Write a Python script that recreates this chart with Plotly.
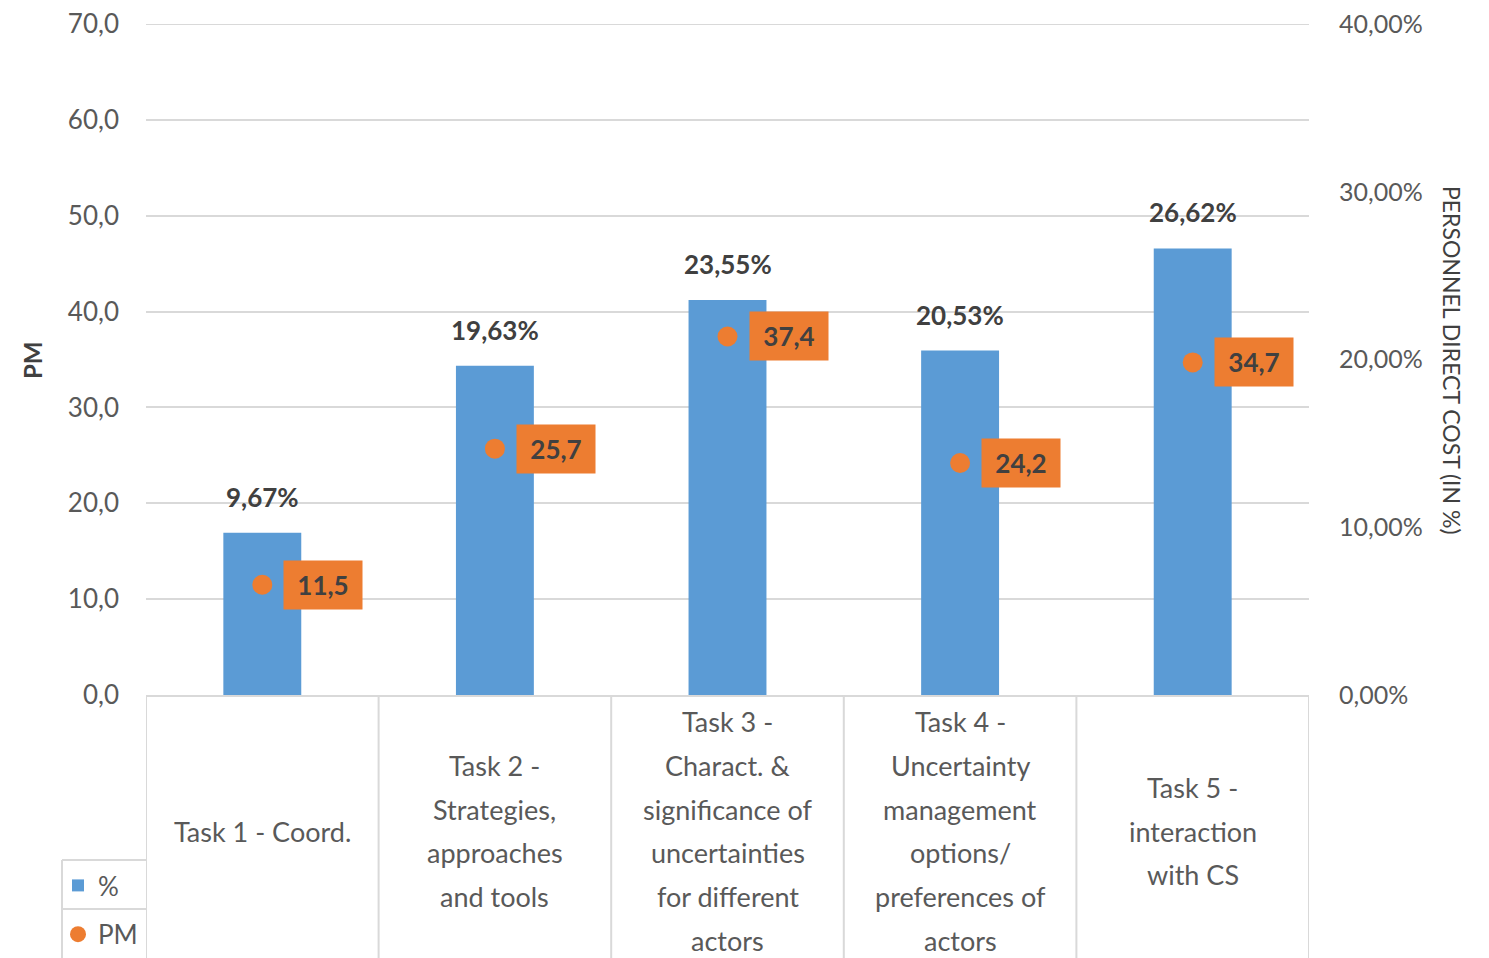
import plotly.graph_objects as go

categories = ["Task 1", "Task 2", "Task 3", "Task 4", "Task 5"]
category_lines = [
    ["Task 1 - Coord."],
    ["Task 2 -", "Strategies,", "approaches", "and tools"],
    ["Task 3 -", "Charact. &", "significance of", "uncertainties", "for different", "actors"],
    ["Task 4 -", "Uncertainty", "management", "options/", "preferences of", "actors"],
    ["Task 5 -", "interaction", "with CS"],
]
pct_values = [9.67, 19.63, 23.55, 20.53, 26.62]   # % personnel direct cost
pm_values = [11.5, 25.7, 37.4, 24.2, 34.7]        # person-months
pm_axis_max = 70
pct_axis_max = 0.4

BLUE = "#5B9BD5"
ORANGE = "#ED7D31"
GRID = "#D9D9D9"
TXT = "#595959"
DARK = "#404040"
FONT = "Lato"

OFF = 8  # page body margin
W, H = 1489 - OFF, 958 - OFF
# target plot area in page pixels: x 146..1309, y 24..695
ML, MT = 146 - OFF, 24 - OFF
MR = W - (1309 - OFF)
MB = H - (695 - OFF)
PW = W - ML - MR
PH = H - MT - MB

def py(px):  # page pixel y -> paper y
    return ((695) - px) / PH

def pxx(px):  # page pixel x -> paper x
    return (px - 146) / PW

fig = go.Figure()
# bars on base axis (y, right side, percent); markers on overlay axis (y2, left, PM) -> drawn on top
fig.add_trace(go.Bar(
    x=categories, y=[v / 100 for v in pct_values], name="%", legendgroup="a",
    marker=dict(color=BLUE, line=dict(width=0)), width=0.335, yaxis="y",
))
fig.add_trace(go.Scatter(
    x=categories, y=pm_values, name="PM", mode="markers", legendgroup="b",
    marker=dict(color=ORANGE, size=20, symbol="circle"), yaxis="y2",
))

annotations = []
for c, v in zip(categories, pct_values):
    annotations.append(dict(
        x=c, y=v / 100, yref="y", xref="x", text=f"{v:.2f}%".replace(".", ","),
        showarrow=False, yshift=36, font=dict(family=FONT, size=26, color=DARK, weight="bold"),
    ))
for c, v in zip(categories, pm_values):
    annotations.append(dict(
        x=c, y=v, yref="y2", xref="x", text=f"{v:.1f}".replace(".", ","),
        showarrow=False, xanchor="left", xshift=21, width=78, height=48,
        bgcolor=ORANGE, borderpad=0,
        font=dict(family=FONT, size=26, color=DARK, weight="bold"),
    ))
# category labels (table)
center_px = 831
spacing = 43.8
for c, lines in zip(categories, category_lines):
    n = len(lines)
    for i, line in enumerate(lines):
        ypx = center_px + (i - (n - 1) / 2) * spacing
        annotations.append(dict(
            x=c, xref="x", y=py(ypx), yref="paper", text=line, showarrow=False,
            yanchor="middle", font=dict(family=FONT, size=27, color=TXT),
        ))
# axis titles
annotations.append(dict(
    x=pxx(33), y=py(360), xref="paper", yref="paper", text="PM", textangle=-90,
    xanchor="center", yanchor="middle",
    showarrow=False, font=dict(family=FONT, size=24, color=DARK, weight="bold"),
))
annotations.append(dict(
    x=pxx(1452), y=py(360), xref="paper", yref="paper",
    text="PERSONNEL DIRECT COST (IN %)", textangle=90,
    xanchor="center", yanchor="middle",
    showarrow=False, font=dict(family=FONT, size=23, color=DARK),
))

shapes = []
# top gridline (plotly clips the gridline at the range end)
shapes.append(dict(type="line", xref="paper", yref="y2", x0=0, x1=1,
                   y0=pm_axis_max, y1=pm_axis_max, line=dict(color=GRID, width=2), layer="below"))
# vertical table lines at category boundaries
for k in range(len(categories) + 1):
    shapes.append(dict(
        type="line", xref="x", yref="paper", x0=k - 0.5, x1=k - 0.5,
        y0=0, y1=py(970), line=dict(color=GRID, width=2),
    ))
# legend table lines
shapes.append(dict(type="line", xref="paper", yref="paper", x0=pxx(62), x1=pxx(62),
                   y0=py(860), y1=py(970), line=dict(color=GRID, width=2)))
shapes.append(dict(type="line", xref="paper", yref="paper", x0=pxx(62), x1=0,
                   y0=py(860), y1=py(860), line=dict(color=GRID, width=2)))
shapes.append(dict(type="line", xref="paper", yref="paper", x0=pxx(62), x1=0,
                   y0=py(909), y1=py(909), line=dict(color=GRID, width=2)))

fig.update_layout(
    width=W, height=H,
    margin=dict(l=ML, r=MR, t=MT, b=MB, autoexpand=False),
    paper_bgcolor="white", plot_bgcolor="white",
    separators=",.",
    showlegend=True,
    legend=dict(
        x=pxx(58), y=py(862), xanchor="left", yanchor="top",
        font=dict(family=FONT, size=26, color=TXT),
        bgcolor="rgba(0,0,0,0)", tracegroupgap=12, itemwidth=30,
        traceorder="grouped",
    ),
    xaxis=dict(
        showticklabels=False, showgrid=False, showline=True, linecolor=GRID, linewidth=2,
        range=[-0.5, 4.5], zeroline=False,
    ),
    yaxis=dict(
        range=[0, pct_axis_max], dtick=0.1, tickformat=".2%", side="right",
        showgrid=False, zeroline=False, showline=False, ticklabelstandoff=29,
        ticklabeloverflow="allow",
        tickfont=dict(family=FONT, size=25, color=TXT),
    ),
    yaxis2=dict(
        range=[0, pm_axis_max], dtick=10, tickformat=".1f", overlaying="y", side="left",
        showgrid=True, gridcolor=GRID, gridwidth=2,
        zeroline=False, showline=False, ticklabelstandoff=26,
        ticklabeloverflow="allow",
        tickfont=dict(family=FONT, size=26, color=TXT),
    ),
    annotations=annotations,
    shapes=shapes,
)

fig.write_html("out.html")
